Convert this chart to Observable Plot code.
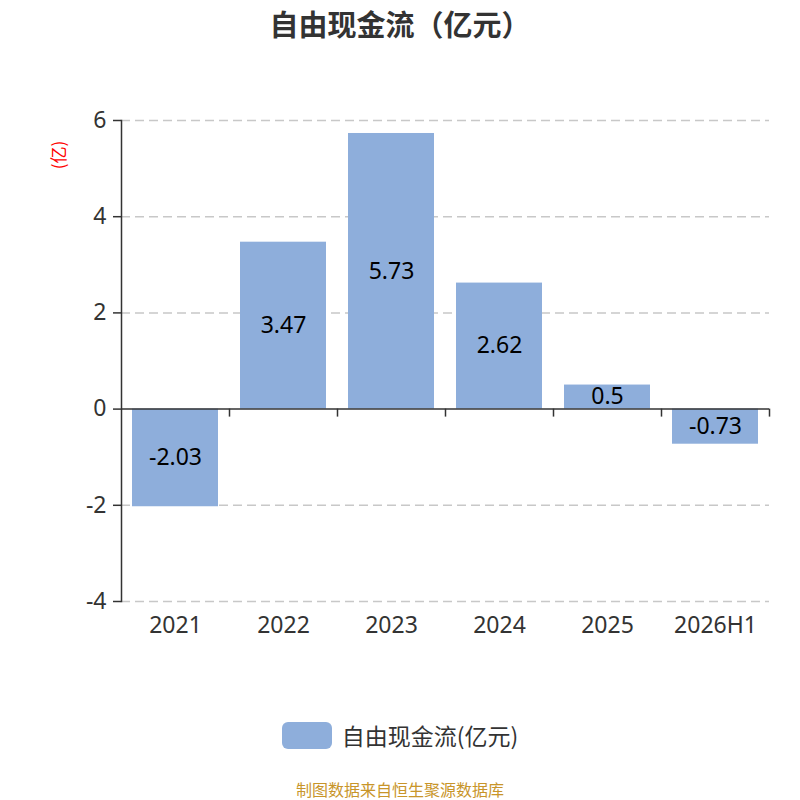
<!DOCTYPE html>
<html>
<head>
<meta charset="utf-8">
<script src="https://cdn.jsdelivr.net/npm/d3@7"></script>
<script src="https://cdn.jsdelivr.net/npm/@observablehq/plot@0.6"></script>
<style>
  body { margin: 0; background: #fff; font-family: "Noto Sans", "Noto Sans CJK SC", sans-serif; }
  #wrap { position: relative; width: 800px; height: 800px; overflow: hidden; }
  #title { position: absolute; left: 0; top: 0; width: 800px; height: 46px; line-height: 46px; text-align: center;
           font-family: "Noto Sans CJK SC", sans-serif; font-weight: bold; font-size: 29px; color: #333; }
  #chart { position: absolute; left: 0; top: 44px; }
  #ylab { position: absolute; left: 58px; top: 155px; transform: translate(-50%, -50%) rotate(-90deg);
          font-family: "Noto Sans CJK SC", sans-serif; font-size: 17px; line-height: 18px; color: #ff0000; white-space: nowrap; }
  #legend { position: absolute; left: 0; top: 720px; width: 800px; height: 30px; display: flex; justify-content: center; align-items: center; }
  #legend .sw { width: 50px; height: 27px; border-radius: 6px; background: #8eaedb; margin-right: 10px; }
  #legend .lt { font-family: "Noto Sans CJK SC", sans-serif; font-size: 23px; line-height: 30px; color: #333; }
  #caption { position: absolute; left: 0; top: 779px; width: 800px; height: 20px; line-height: 20px; text-align: center;
             font-family: "Noto Sans CJK SC", sans-serif; font-size: 16px; color: #c8952a; }
</style>
</head>
<body>
<div id="wrap">
  <div id="title">自由现金流（亿元）</div>
  <div id="chart"></div>
  <div id="ylab">(亿)</div>
  <div id="legend"><div class="sw"></div><div class="lt">自由现金流(亿元)</div></div>
  <div id="caption">制图数据来自恒生聚源数据库</div>
</div>
<script>
const categories = ["2021", "2022", "2023", "2024", "2025", "2026H1"];
const values = [-2.03, 3.47, 5.73, 2.62, 0.5, -0.73];
const yTicks = [-4, -2, 0, 2, 4, 6];

const data = categories.map((c, i) => ({cat: c, value: values[i]}));
const barColor = "#8eaedb";
const bandStep = (769 - 121) / categories.length;

const chart = Plot.plot({
  width: 800,
  height: 640,
  marginLeft: 121,
  marginRight: 31,
  marginTop: 76,
  marginBottom: 83,
  style: { fontFamily: "'Noto Sans', 'Noto Sans CJK SC', sans-serif", fontSize: "23px", color: "#333", background: "transparent" },
  x: { domain: categories, paddingInner: 0.2, paddingOuter: 0.1, align: 0.5 },
  y: { domain: [-4, 6], ticks: yTicks },
  marks: [
    Plot.ruleY(yTicks.filter(t => t !== 0), { stroke: "#c8c8c8", strokeWidth: 1.5, strokeDasharray: "9,5" }),
    Plot.barY(data, { x: "cat", y: "value", fill: barColor }),
    Plot.text(data, { x: "cat", y: d => d.value / 2, text: d => String(d.value), fill: "#000", fontSize: 23 }),
    Plot.ruleY([0], { stroke: "#333", strokeWidth: 1.5 }),
    Plot.ruleX(categories, { x: d => d, y1: 0, y2: -8 / 48.1, dx: bandStep / 2, stroke: "#333", strokeWidth: 1.5 }),
    Plot.frame({ anchor: "left", stroke: "#333", strokeWidth: 1.5 }),
    Plot.axisY({ ticks: yTicks, tickFormat: d => String(d), tickSize: 8, tickPadding: 7, stroke: "#333", strokeWidth: 1.5, label: null, fontSize: 23, fill: "#333" }),
    Plot.axisX({ anchor: "bottom", tickSize: 0, tickPadding: 15, label: null, fontSize: 23, fill: "#333" })
  ]
});
document.getElementById("chart").appendChild(chart);
</script>
</body>
</html>
